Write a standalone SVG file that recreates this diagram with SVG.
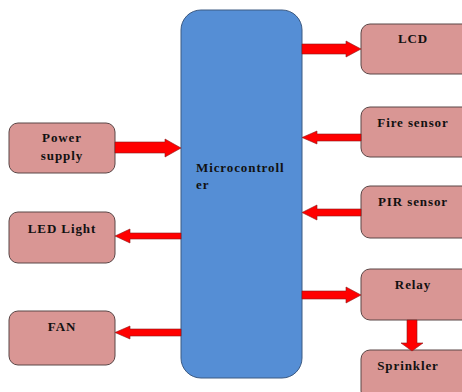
<svg xmlns="http://www.w3.org/2000/svg" width="462" height="392" viewBox="0 0 462 392">
<style>
.box{fill:#D99694;stroke:#5a4646;stroke-width:1}
.mc{fill:#558ED5;stroke:#3c5a82;stroke-width:1}
.t{font-family:"Liberation Serif","Times New Roman",serif;font-weight:bold;font-size:13px;letter-spacing:0.9px;fill:#111;text-anchor:middle}
.a{fill:#FF0000;stroke:#8b1a1a;stroke-width:0.6}
</style>
<rect width="462" height="392" fill="#fff"/>
<g id="microcontroller">
<rect class="mc" x="181" y="10" width="121" height="368" rx="20"/>
<text class="t" x="196" y="172" style="text-anchor:start">Microcontroll</text>
<text class="t" x="196" y="189" style="text-anchor:start">er</text>
</g>
<g id="power">
<rect class="box" x="9" y="123" width="106" height="50" rx="9"/>
<text class="t" x="62" y="142">Power</text>
<text class="t" x="62" y="160">supply</text>
</g>
<g id="led">
<rect class="box" x="9" y="212" width="106" height="51" rx="9"/>
<text class="t" x="62" y="233">LED Light</text>
</g>
<g id="fan">
<rect class="box" x="9" y="311" width="106" height="54" rx="9"/>
<text class="t" x="62" y="331">FAN</text>
</g>
<g id="lcd">
<rect class="box" x="361" y="24" width="110" height="50" rx="9"/>
<text class="t" x="413" y="43">LCD</text>
</g>
<g id="fire">
<rect class="box" x="361" y="107" width="110" height="50" rx="9"/>
<text class="t" x="413" y="127">Fire sensor</text>
</g>
<g id="pir">
<rect class="box" x="361" y="186" width="110" height="52" rx="9"/>
<text class="t" x="413" y="206">PIR sensor</text>
</g>
<g id="relay">
<rect class="box" x="361" y="269" width="110" height="51" rx="9"/>
<text class="t" x="413" y="289">Relay</text>
</g>
<g id="sprinkler">
<rect class="box" x="361" y="350" width="110" height="50" rx="9"/>
<text class="t" x="408" y="370">Sprinkler</text>
</g>
<g id="connectors">
<polygon class="a" points="115,142 165,142 165,139 181,148 165,157 165,153 115,153"/>
<polygon class="a" points="302,44 346,44 346,41 361,49 346,57 346,54 302,54"/>
<polygon class="a" points="361,134 317,134 317,131 302,137.5 317,144 317,141 361,141"/>
<polygon class="a" points="361,209 317,209 317,205 302,212.5 317,220 317,216 361,216"/>
<polygon class="a" points="302,291 346,291 346,287 361,295 346,303 346,299 302,299"/>
<polygon class="a" points="181,233 130,233 130,229 115,236 130,243 130,239 181,239"/>
<polygon class="a" points="181,329 130,329 130,326 115,332.5 130,339 130,336 181,336"/>
<polygon class="a" points="407,320 417,320 417,343 423,343 412,351 401,343 407,343"/>
</g>
</svg>
